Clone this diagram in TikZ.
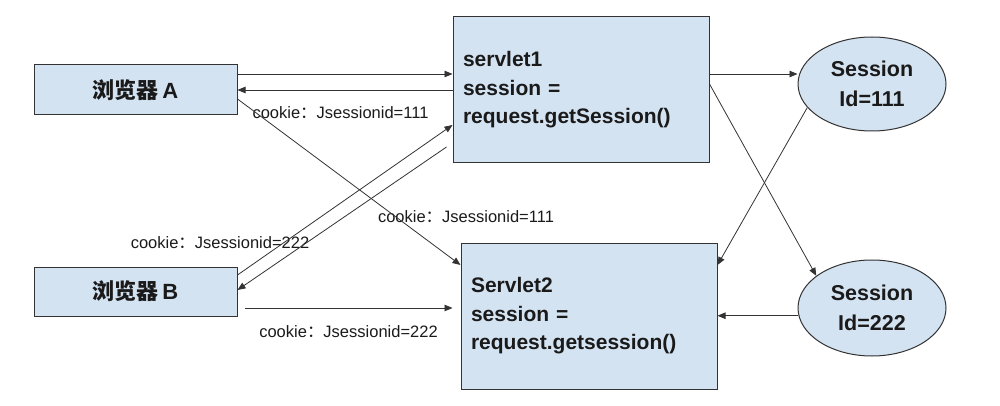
\documentclass[tikz,border=0pt]{standalone}
\usepackage{fontspec}
\setmainfont{Liberation Sans}
\newfontfamily\cjk{Noto Sans CJK SC}
\usetikzlibrary{arrows.meta,shapes.geometric}
\definecolor{boxfill}{HTML}{D4E3F2}
\definecolor{edge}{HTML}{333333}
\definecolor{ink}{HTML}{1A1A1A}
\tikzset{
  browser/.style={draw=edge,line width=1pt,fill=boxfill,minimum width=203pt,minimum height=50pt,inner sep=0pt,
    font=\fontsize{22}{26}\selectfont\bfseries,text=ink},
  servlet/.style={draw=edge,line width=1pt,fill=boxfill,minimum width=256pt,minimum height=146pt,inner sep=0pt,
    text width=236pt,align=left,font=\fontsize{21}{28.5}\selectfont\bfseries,text=ink},
  sess/.style={ellipse,draw=edge,line width=1pt,fill=boxfill,minimum width=148pt,minimum height=94pt,inner sep=0pt,
    align=center,font=\fontsize{21.5}{30}\selectfont\bfseries,text=ink},
  lbl/.style={inner sep=0pt,font=\fontsize{16.5}{20}\selectfont,text=ink},
  arr/.style={draw=edge,line width=0.8pt,-{Triangle[length=8pt,width=6.5pt]}}
}
\begin{document}
\begin{tikzpicture}[x=1pt,y=-1pt]
\useasboundingbox (0,0) rectangle (1000,406);
\node[browser] (A) at (135.5,90) {{\cjk 浏览器}\,A};
\node[browser,minimum height=49pt] (B) at (135.5,291.5) {{\cjk 浏览器}\,B};
\node[servlet] (s1) at (581,90) {servlet1\\session =\\request.getSession()};
\node[servlet] (s2) at (589,316) {Servlet2\\session =\\request.getsession()};
\node[sess] (e1) at (872,84) {Session\\Id=111};
\node[sess,minimum height=96pt] (e2) at (872,308) {Session\\Id=222};

\node[lbl] (l1) at (340.5,113) {cookie{\cjk ：}Jsessionid=111};
\node[lbl] (l2) at (466,217) {cookie{\cjk ：}Jsessionid=111};
\node[lbl] (l3) at (220,243) {cookie{\cjk ：}Jsessionid=222};
\node[lbl] (l4) at (348.5,332) {cookie{\cjk ：}Jsessionid=222};

\draw[arr] ([yshift=16pt]A.east) -- ([yshift=16pt]A.east -| s1.west);
\draw[arr] (s1.west) -- (A.east);
\draw[arr] ([yshift=-9pt]A.east) -- ([yshift=51pt]s2.west);
\draw[arr] ([yshift=16.5pt]B.east) -- ([yshift=-35pt]s1.west);
\draw[arr] ([xshift=-6pt,yshift=-57pt]s1.west) -- ([yshift=1.5pt]B.east);
\draw[arr] ([xshift=7pt,yshift=-16.5pt]B.east) -- ([xshift=-8pt,yshift=8pt]s2.west);
\draw[arr] ([yshift=16pt]s1.east) -- ([yshift=16pt]s1.east -| e1.west);
\draw[arr] ([yshift=6pt]s1.east) -- (e2.150);
\draw[arr] (e1.200) -- ([yshift=51pt]s2.east);
\draw[arr] (e2.186) -- (e2.186 -| s2.east);
\end{tikzpicture}
\end{document}
